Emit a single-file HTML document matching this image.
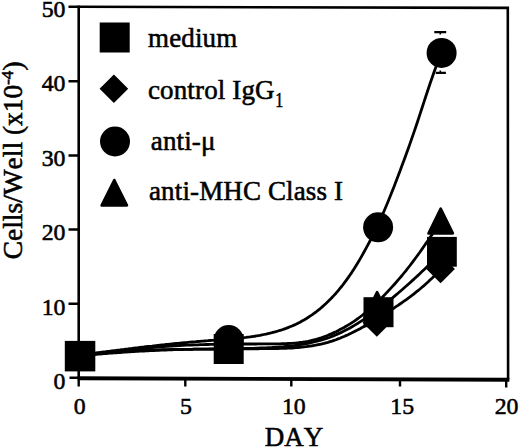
<!DOCTYPE html>
<html><head><meta charset="utf-8"><style>
html,body{margin:0;padding:0;background:#fff;width:520px;height:447px;overflow:hidden}
svg{display:block}
text{font-family:"Liberation Serif",serif;fill:#000;font-kerning:none;stroke:#000;stroke-width:0.55px}
</style></head><body>
<svg width="520" height="447" viewBox="0 0 520 447">
<g stroke="#000" fill="none" stroke-linecap="butt">
  <path d="M78.7,6.7 L507.8,7.9 L508.1,379.2" stroke-width="2.6" stroke-linejoin="miter"/>
  <path d="M78.7,5.5 V379.2" stroke-width="2.6"/>
  <path d="M77.5,378.3 L509.4,379.7" stroke-width="3.9"/>
  <!-- y ticks -->
  <path d="M68.5,6.7 H78 M68.5,81.3 H78 M68.5,155.5 H78 M68.5,229.5 H78 M68.5,303.7 H78 M69.5,377.7 H78" stroke-width="2.4"/>
  <!-- x ticks -->
  <path d="M78.7,380 V386.5 M185.3,380 V386.5 M291.3,380 V386.5 M400,380 V386.5 M506.2,380 V387.5" stroke-width="2.4"/>
</g>
<g fill="#000" font-size="23.8">
  <text x="65.5" y="17.3" text-anchor="end">50</text>
  <text x="65.5" y="91.4" text-anchor="end">40</text>
  <text x="65.5" y="165.6" text-anchor="end">30</text>
  <text x="65.5" y="240" text-anchor="end">20</text>
  <text x="65.5" y="314.6" text-anchor="end">10</text>
  <text x="65.5" y="388.6" text-anchor="end">0</text>
  <text x="79.8" y="414" text-anchor="middle">0</text>
  <text x="185.9" y="414" text-anchor="middle">5</text>
  <text x="293.8" y="414" text-anchor="middle">10</text>
  <text x="402.2" y="414" text-anchor="middle">15</text>
  <text x="506.6" y="414" text-anchor="middle">20</text>
</g>
<text x="294" y="446" text-anchor="middle" font-size="27">DAY</text>
<text transform="translate(22,259.2) rotate(-90)" font-size="27.3" letter-spacing="0.05">Cells/Well (x10<tspan dy="-9" font-size="17">-4</tspan><tspan dy="9">)</tspan></text>
<g font-size="27" letter-spacing="0.13">
  <text x="148" y="46.5">medium</text>
  <text x="148" y="98.5">control IgG</text>
  <text transform="translate(275.2,106.6) scale(0.78,1)" font-size="20.5" letter-spacing="0">1</text>
  <text x="150.8" y="149.5">anti-μ</text>
  <text x="149" y="199.8">anti-MHC Class I</text>
</g>
<g stroke="#000" fill="none" stroke-width="2.8" stroke-linejoin="round">
  <path d="M80.0,355.2 L82.0,354.9 L84.0,354.7 L86.0,354.4 L88.0,354.1 L90.0,353.8 L92.0,353.6 L94.0,353.3 L96.0,353.0 L98.0,352.7 L100.0,352.5 L102.0,352.2 L104.0,351.9 L106.0,351.7 L108.0,351.4 L110.0,351.2 L112.0,350.9 L114.0,350.6 L116.0,350.4 L118.0,350.1 L120.0,349.9 L122.0,349.6 L124.0,349.4 L126.0,349.1 L128.0,348.9 L130.0,348.6 L132.0,348.4 L134.0,348.1 L136.0,347.9 L138.0,347.7 L140.0,347.4 L142.0,347.2 L144.0,347.0 L146.0,346.7 L148.0,346.5 L150.0,346.3 L152.0,346.1 L154.0,345.8 L156.0,345.6 L158.0,345.4 L160.0,345.2 L162.0,345.0 L164.0,344.8 L166.0,344.5 L168.0,344.3 L170.0,344.1 L172.0,343.9 L174.0,343.7 L176.0,343.5 L178.0,343.3 L180.0,343.1 L182.0,342.9 L184.0,342.7 L186.0,342.6 L188.0,342.4 L190.0,342.2 L192.0,342.0 L194.0,341.8 L196.0,341.7 L198.0,341.5 L200.0,341.3 L202.0,341.1 L204.0,341.0 L206.0,340.8 L208.0,340.7 L210.0,340.5 L212.0,340.3 L214.0,340.2 L216.0,340.0 L218.0,339.9 L220.0,339.7 L222.0,339.6 L224.0,339.4 L226.0,339.3 L228.0,339.1 L230.0,339.0 L232.0,338.8 L234.0,338.6 L236.0,338.4 L238.0,338.2 L240.0,338.0 L242.0,337.8 L244.0,337.6 L246.0,337.4 L248.0,337.1 L250.0,336.9 L252.0,336.6 L254.0,336.3 L256.0,336.0 L258.0,335.6 L260.0,335.3 L262.0,334.9 L264.0,334.5 L266.0,334.1 L268.0,333.6 L270.0,333.2 L272.0,332.7 L274.0,332.1 L276.0,331.6 L278.0,331.0 L280.0,330.4 L282.0,329.8 L284.0,329.1 L286.0,328.4 L288.0,327.6 L290.0,326.8 L292.0,326.0 L294.0,325.1 L296.0,324.2 L298.0,323.2 L300.0,322.2 L302.0,321.1 L304.0,320.0 L306.0,318.8 L308.0,317.5 L310.0,316.2 L312.0,314.9 L314.0,313.4 L316.0,312.0 L318.0,310.4 L320.0,308.8 L322.0,307.1 L324.0,305.3 L326.0,303.5 L328.0,301.6 L330.0,299.6 L332.0,297.5 L334.0,295.4 L336.0,293.2 L338.0,290.8 L340.0,288.4 L342.0,286.0 L344.0,283.4 L346.0,280.7 L348.0,277.9 L350.0,275.0 L352.0,272.1 L354.0,269.0 L356.0,265.8 L358.0,262.5 L360.0,259.1 L362.0,255.6 L364.0,252.0 L366.0,248.4 L368.0,244.7 L370.0,241.0 L372.0,237.1 L374.0,233.2 L376.0,229.1 L378.0,224.8 L380.0,220.4 L382.0,215.9 L384.0,211.3 L386.0,206.5 L388.0,201.7 L390.0,196.8 L392.0,191.8 L394.0,186.7 L396.0,181.5 L398.0,176.2 L400.0,170.9 L402.0,165.6 L404.0,160.2 L406.0,154.8 L408.0,149.2 L410.0,143.6 L412.0,137.9 L414.0,132.1 L416.0,126.2 L418.0,120.2 L420.0,114.1 L422.0,108.0 L424.0,101.9 L426.0,95.8 L428.0,89.7 L430.0,83.8 L432.0,78.0 L434.0,72.3 L436.0,66.8 L438.0,61.6 L440.0,56.6 L441.6,52.8"/>
  <path d="M80.0,355.3 L82.0,355.1 L84.0,354.9 L86.0,354.7 L88.0,354.4 L90.0,354.2 L92.0,354.0 L94.0,353.7 L96.0,353.5 L98.0,353.3 L100.0,353.0 L102.0,352.8 L104.0,352.6 L106.0,352.4 L108.0,352.1 L110.0,351.9 L112.0,351.7 L114.0,351.4 L116.0,351.2 L118.0,351.0 L120.0,350.8 L122.0,350.6 L124.0,350.3 L126.0,350.1 L128.0,349.9 L130.0,349.7 L132.0,349.5 L134.0,349.3 L136.0,349.1 L138.0,348.9 L140.0,348.7 L142.0,348.5 L144.0,348.3 L146.0,348.1 L148.0,347.9 L150.0,347.7 L152.0,347.6 L154.0,347.4 L156.0,347.2 L158.0,347.0 L160.0,346.9 L162.0,346.7 L164.0,346.6 L166.0,346.4 L168.0,346.3 L170.0,346.1 L172.0,346.0 L174.0,345.9 L176.0,345.8 L178.0,345.6 L180.0,345.5 L182.0,345.4 L184.0,345.3 L186.0,345.2 L188.0,345.1 L190.0,345.1 L192.0,345.0 L194.0,344.9 L196.0,344.8 L198.0,344.8 L200.0,344.7 L202.0,344.6 L204.0,344.6 L206.0,344.5 L208.0,344.5 L210.0,344.4 L212.0,344.4 L214.0,344.3 L216.0,344.3 L218.0,344.3 L220.0,344.2 L222.0,344.2 L224.0,344.2 L226.0,344.2 L228.0,344.1 L230.0,344.1 L232.0,344.1 L234.0,344.1 L236.0,344.1 L238.0,344.0 L240.0,344.0 L242.0,344.0 L244.0,344.0 L246.0,344.0 L248.0,344.0 L250.0,344.0 L252.0,344.0 L254.0,344.0 L256.0,344.0 L258.0,343.9 L260.0,343.9 L262.0,343.9 L264.0,343.9 L266.0,343.9 L268.0,343.9 L270.0,343.9 L272.0,343.9 L274.0,343.9 L276.0,343.8 L278.0,343.8 L280.0,343.8 L282.0,343.7 L284.0,343.7 L286.0,343.6 L288.0,343.5 L290.0,343.4 L292.0,343.3 L294.0,343.1 L296.0,343.0 L298.0,342.8 L300.0,342.5 L302.0,342.3 L304.0,342.0 L306.0,341.6 L308.0,341.3 L310.0,340.9 L312.0,340.4 L314.0,339.9 L316.0,339.4 L318.0,338.8 L320.0,338.2 L322.0,337.5 L324.0,336.8 L326.0,336.1 L328.0,335.3 L330.0,334.4 L332.0,333.6 L334.0,332.6 L336.0,331.7 L338.0,330.7 L340.0,329.6 L342.0,328.6 L344.0,327.5 L346.0,326.3 L348.0,325.1 L350.0,323.9 L352.0,322.6 L354.0,321.3 L356.0,319.9 L358.0,318.5 L360.0,317.0 L362.0,315.5 L364.0,313.9 L366.0,312.3 L368.0,310.6 L370.0,308.9 L372.0,307.1 L374.0,305.3 L376.0,303.4 L378.0,301.5 L380.0,299.5 L382.0,297.5 L384.0,295.5 L386.0,293.4 L388.0,291.3 L390.0,289.1 L392.0,286.9 L394.0,284.7 L396.0,282.5 L398.0,280.2 L400.0,277.8 L402.0,275.5 L404.0,273.0 L406.0,270.6 L408.0,268.0 L410.0,265.5 L412.0,262.8 L414.0,260.2 L416.0,257.5 L418.0,254.7 L420.0,252.0 L422.0,249.1 L424.0,246.3 L426.0,243.4 L428.0,240.5 L430.0,237.5 L432.0,234.6 L434.0,231.6 L436.0,228.6 L438.0,225.5 L440.0,222.5 L441.0,220.9"/>
  <path d="M80.0,356.0 L82.0,355.7 L84.0,355.4 L86.0,355.1 L88.0,354.8 L90.0,354.6 L92.0,354.3 L94.0,354.1 L96.0,353.8 L98.0,353.6 L100.0,353.4 L102.0,353.2 L104.0,353.0 L106.0,352.8 L108.0,352.6 L110.0,352.4 L112.0,352.2 L114.0,352.1 L116.0,351.9 L118.0,351.7 L120.0,351.6 L122.0,351.4 L124.0,351.3 L126.0,351.2 L128.0,351.1 L130.0,350.9 L132.0,350.8 L134.0,350.7 L136.0,350.6 L138.0,350.5 L140.0,350.4 L142.0,350.3 L144.0,350.3 L146.0,350.2 L148.0,350.1 L150.0,350.0 L152.0,350.0 L154.0,349.9 L156.0,349.9 L158.0,349.8 L160.0,349.8 L162.0,349.7 L164.0,349.7 L166.0,349.6 L168.0,349.6 L170.0,349.5 L172.0,349.5 L174.0,349.5 L176.0,349.4 L178.0,349.4 L180.0,349.4 L182.0,349.4 L184.0,349.3 L186.0,349.3 L188.0,349.3 L190.0,349.3 L192.0,349.3 L194.0,349.2 L196.0,349.2 L198.0,349.2 L200.0,349.2 L202.0,349.2 L204.0,349.2 L206.0,349.2 L208.0,349.1 L210.0,349.1 L212.0,349.1 L214.0,349.1 L216.0,349.1 L218.0,349.0 L220.0,349.0 L222.0,349.0 L224.0,349.0 L226.0,348.9 L228.0,348.9 L230.0,348.9 L232.0,348.8 L234.0,348.8 L236.0,348.8 L238.0,348.7 L240.0,348.7 L242.0,348.6 L244.0,348.6 L246.0,348.5 L248.0,348.5 L250.0,348.4 L252.0,348.3 L254.0,348.3 L256.0,348.2 L258.0,348.1 L260.0,348.0 L262.0,348.0 L264.0,347.9 L266.0,347.8 L268.0,347.7 L270.0,347.6 L272.0,347.5 L274.0,347.3 L276.0,347.2 L278.0,347.1 L280.0,346.9 L282.0,346.8 L284.0,346.6 L286.0,346.4 L288.0,346.2 L290.0,346.0 L292.0,345.8 L294.0,345.6 L296.0,345.3 L298.0,345.0 L300.0,344.7 L302.0,344.4 L304.0,344.1 L306.0,343.7 L308.0,343.3 L310.0,342.9 L312.0,342.5 L314.0,342.0 L316.0,341.5 L318.0,341.0 L320.0,340.4 L322.0,339.9 L324.0,339.2 L326.0,338.6 L328.0,337.9 L330.0,337.2 L332.0,336.4 L334.0,335.6 L336.0,334.8 L338.0,333.9 L340.0,333.0 L342.0,332.1 L344.0,331.1 L346.0,330.0 L348.0,329.0 L350.0,327.9 L352.0,326.8 L354.0,325.6 L356.0,324.4 L358.0,323.2 L360.0,321.9 L362.0,320.6 L364.0,319.3 L366.0,318.0 L368.0,316.6 L370.0,315.2 L372.0,313.8 L374.0,312.3 L376.0,310.8 L378.0,309.3 L380.0,307.8 L382.0,306.3 L384.0,304.7 L386.0,303.1 L388.0,301.5 L390.0,299.9 L392.0,298.3 L394.0,296.6 L396.0,294.9 L398.0,293.2 L400.0,291.5 L402.0,289.8 L404.0,288.0 L406.0,286.3 L408.0,284.5 L410.0,282.7 L412.0,280.9 L414.0,279.1 L416.0,277.2 L418.0,275.4 L420.0,273.5 L422.0,271.6 L424.0,269.7 L426.0,267.8 L428.0,265.8 L430.0,263.9 L432.0,261.9 L434.0,259.9 L436.0,257.9 L438.0,255.9 L440.0,253.9 L442.0,251.9"/>
  <path d="M80.0,355.9 L82.0,355.7 L84.0,355.5 L86.0,355.3 L88.0,355.1 L90.0,354.9 L92.0,354.8 L94.0,354.6 L96.0,354.4 L98.0,354.2 L100.0,354.1 L102.0,353.9 L104.0,353.7 L106.0,353.5 L108.0,353.4 L110.0,353.2 L112.0,353.1 L114.0,352.9 L116.0,352.8 L118.0,352.6 L120.0,352.5 L122.0,352.3 L124.0,352.2 L126.0,352.1 L128.0,351.9 L130.0,351.8 L132.0,351.7 L134.0,351.5 L136.0,351.4 L138.0,351.3 L140.0,351.2 L142.0,351.1 L144.0,351.0 L146.0,350.9 L148.0,350.8 L150.0,350.7 L152.0,350.6 L154.0,350.5 L156.0,350.4 L158.0,350.3 L160.0,350.2 L162.0,350.1 L164.0,350.0 L166.0,350.0 L168.0,349.9 L170.0,349.8 L172.0,349.8 L174.0,349.7 L176.0,349.6 L178.0,349.6 L180.0,349.5 L182.0,349.5 L184.0,349.4 L186.0,349.4 L188.0,349.4 L190.0,349.3 L192.0,349.3 L194.0,349.2 L196.0,349.2 L198.0,349.2 L200.0,349.2 L202.0,349.1 L204.0,349.1 L206.0,349.1 L208.0,349.1 L210.0,349.0 L212.0,349.0 L214.0,349.0 L216.0,349.0 L218.0,349.0 L220.0,349.0 L222.0,349.0 L224.0,348.9 L226.0,348.9 L228.0,348.9 L230.0,348.9 L232.0,348.9 L234.0,348.9 L236.0,348.9 L238.0,348.9 L240.0,348.9 L242.0,348.9 L244.0,348.8 L246.0,348.8 L248.0,348.8 L250.0,348.8 L252.0,348.8 L254.0,348.8 L256.0,348.8 L258.0,348.8 L260.0,348.7 L262.0,348.7 L264.0,348.7 L266.0,348.7 L268.0,348.7 L270.0,348.6 L272.0,348.6 L274.0,348.6 L276.0,348.5 L278.0,348.5 L280.0,348.4 L282.0,348.4 L284.0,348.3 L286.0,348.3 L288.0,348.2 L290.0,348.1 L292.0,348.0 L294.0,347.8 L296.0,347.7 L298.0,347.5 L300.0,347.4 L302.0,347.2 L304.0,346.9 L306.0,346.7 L308.0,346.4 L310.0,346.1 L312.0,345.8 L314.0,345.5 L316.0,345.1 L318.0,344.7 L320.0,344.3 L322.0,343.9 L324.0,343.4 L326.0,342.8 L328.0,342.3 L330.0,341.7 L332.0,341.1 L334.0,340.4 L336.0,339.7 L338.0,338.9 L340.0,338.2 L342.0,337.3 L344.0,336.5 L346.0,335.6 L348.0,334.7 L350.0,333.7 L352.0,332.8 L354.0,331.8 L356.0,330.7 L358.0,329.7 L360.0,328.7 L362.0,327.6 L364.0,326.5 L366.0,325.4 L368.0,324.2 L370.0,323.1 L372.0,321.9 L374.0,320.7 L376.0,319.5 L378.0,318.3 L380.0,317.1 L382.0,315.8 L384.0,314.6 L386.0,313.3 L388.0,312.0 L390.0,310.7 L392.0,309.4 L394.0,308.1 L396.0,306.7 L398.0,305.4 L400.0,304.0 L402.0,302.6 L404.0,301.2 L406.0,299.8 L408.0,298.3 L410.0,296.9 L412.0,295.4 L414.0,293.8 L416.0,292.2 L418.0,290.6 L420.0,289.0 L422.0,287.3 L424.0,285.6 L426.0,283.8 L428.0,282.0 L430.0,280.1 L432.0,278.2 L434.0,276.2 L436.0,274.2 L438.0,272.1 L440.0,269.9 L440.6,269.3"/>
</g>
<g fill="#000" stroke="none">
  <!-- legend -->
  <rect x="99.7" y="22.5" width="30" height="30"/>
  <path d="M113.9,74.5 L128.20000000000002,88.8 L113.9,103.1 L99.60000000000001,88.8 Z"/>
  <circle cx="115" cy="141.5" r="15"/>
  <path d="M114.30,180.00 L126.94,205.40 L101.66,205.40 Z" stroke="#000" stroke-width="2.6" stroke-linejoin="round"/>
  <!-- day 0 -->
  <rect x="64.8" y="340.9" width="30.5" height="30.5"/>
  <!-- day 7 -->
  <circle cx="228.7" cy="340" r="15"/>
  <rect x="213.7" y="334.0" width="30" height="30"/>
  <!-- day 14 -->
  <path d="M377.10,292.10 L389.74,317.50 L364.46,317.50 Z" stroke="#000" stroke-width="2.6" stroke-linejoin="round"/>
  <path d="M376.8,308.09999999999997 L391.1,322.4 L376.8,336.7 L362.5,322.4 Z"/>
  <rect x="363.5" y="297.2" width="30" height="30"/>
  <circle cx="378.1" cy="227.3" r="15"/>
  <!-- day 17 -->
  <path d="M440.70,208.70 L452.89,233.40 L428.51,233.40 Z" stroke="#000" stroke-width="2.6" stroke-linejoin="round"/>
  <path d="M440.6,254.59999999999997 L454.90000000000003,268.9 L440.6,283.2 L426.3,268.9 Z"/>
  <rect x="427.0" y="236.9" width="29.8" height="29.8"/>
  <circle cx="441.6" cy="52.9" r="15"/>
</g>
<g stroke="#000" stroke-width="2.2">
  <path d="M434.3,32.2 H446.2 M435.8,72.8 H445.9"/>
  <path d="M440.3,32 V34.5 M440.3,73 V70.5" stroke-width="1.6"/>
</g>
</svg>
</body></html>
